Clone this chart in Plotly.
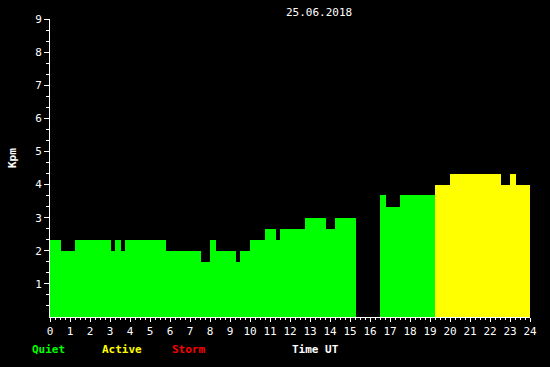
import plotly.graph_objects as go

# Step segments (hours UT) and Kpm values
seg_start = [0.0, 0.55, 1.25, 3.05, 3.25, 3.55, 3.75, 5.8, 7.55, 8.0, 8.3, 9.3, 9.5, 10.0,
             10.75, 11.3, 11.5, 12.75, 13.8, 14.25,
             16.5, 16.8, 17.5, 19.25, 20.0, 22.55, 23.0, 23.3]
seg_end = [0.55, 1.25, 3.05, 3.25, 3.55, 3.75, 5.8, 7.55, 8.0, 8.3, 9.3, 9.5, 10.0, 10.75,
           11.3, 11.5, 12.75, 13.8, 14.25, 15.3,
           16.8, 17.5, 19.25, 20.0, 22.55, 23.0, 23.3, 24.0]
kpm = [2.33, 2.0, 2.33, 2.0, 2.33, 2.0, 2.33, 2.0, 1.67, 2.33, 2.0, 1.67, 2.0, 2.33,
       2.67, 2.33, 2.67, 3.0, 2.67, 3.0,
       3.67, 3.33, 3.67, 4.0, 4.33, 4.0, 4.33, 4.0]

x_ticks = list(range(0, 25))
y_ticks = list(range(1, 10))
date_label = "25.06.2018"

GREEN, YELLOW, RED = "#00ff00", "#ffff00", "#ff0000"

def level_color(v):
    if v >= 5:
        return RED
    if v >= 4:
        return YELLOW
    return GREEN

mids = [(a + b) / 2 for a, b in zip(seg_start, seg_end)]
widths = [b - a for a, b in zip(seg_start, seg_end)]
colors = [level_color(v) for v in kpm]

fig = go.Figure(go.Bar(x=mids, y=kpm, width=widths,
                       marker=dict(color=colors, line=dict(width=0)),
                       hoverinfo="skip"))

FONT = "DejaVu Sans Mono"
W, H = 550, 367
L, R, T, B = 50, 20, 19, 50
pw, ph = W - L - R, H - T - B

def px(xp):
    return (xp - L) / pw

def py(yp):
    return (H - B - yp) / ph

fig.update_layout(
    width=W, height=H,
    margin=dict(l=L, r=R, t=T, b=B),
    paper_bgcolor="black", plot_bgcolor="black",
    showlegend=False, bargap=0,
    font=dict(family=FONT, size=11, color="white"),
    xaxis=dict(range=[0, 24], tickvals=x_ticks, ticktext=[str(v) for v in x_ticks],
               showgrid=False, zeroline=False, showline=True, linecolor="white", linewidth=1,
               ticks="outside", ticklen=4, tickcolor="white", tickwidth=1,
               minor=dict(dtick=0.25, ticks="outside", ticklen=2, tickcolor="white", tickwidth=1,
                          showgrid=False),
               tickfont=dict(family=FONT, size=11, color="white"), fixedrange=True),
    yaxis=dict(range=[0, 9], tickvals=y_ticks, ticktext=[str(v) for v in y_ticks],
               showgrid=False, zeroline=False, showline=True, linecolor="white", linewidth=1,
               ticks="outside", ticklen=5, tickcolor="white", tickwidth=1,
               minor=dict(tickvals=[i / 3 for i in range(1, 27) if i % 3 != 0],
                          ticks="outside", ticklen=3, tickcolor="white", tickwidth=1,
                          showgrid=False),
               tickfont=dict(family=FONT, size=11, color="white"), fixedrange=True),
)

annos = [
    dict(text=date_label, x=px(319), y=py(12), xanchor="center", yanchor="middle",
         font=dict(family=FONT, size=11, color="white")),
    dict(text="<b>Kpm</b>", x=px(12), y=py(158), xanchor="center", yanchor="middle",
         textangle=-90, font=dict(family=FONT, size=11, color="white")),
    dict(text="<b>Quiet</b>", x=px(30), y=py(349), xanchor="left", yanchor="middle",
         font=dict(family=FONT, size=11, color=GREEN)),
    dict(text="<b>Active</b>", x=px(100), y=py(349), xanchor="left", yanchor="middle",
         font=dict(family=FONT, size=11, color=YELLOW)),
    dict(text="<b>Storm</b>", x=px(170), y=py(349), xanchor="left", yanchor="middle",
         font=dict(family=FONT, size=11, color=RED)),
    dict(text="<b>Time UT</b>", x=px(290), y=py(349), xanchor="left", yanchor="middle",
         font=dict(family=FONT, size=11, color="white")),
]
for a in annos:
    fig.add_annotation(xref="paper", yref="paper", showarrow=False, **a)

fig.write_html("out.html", config={"displayModeBar": False})
